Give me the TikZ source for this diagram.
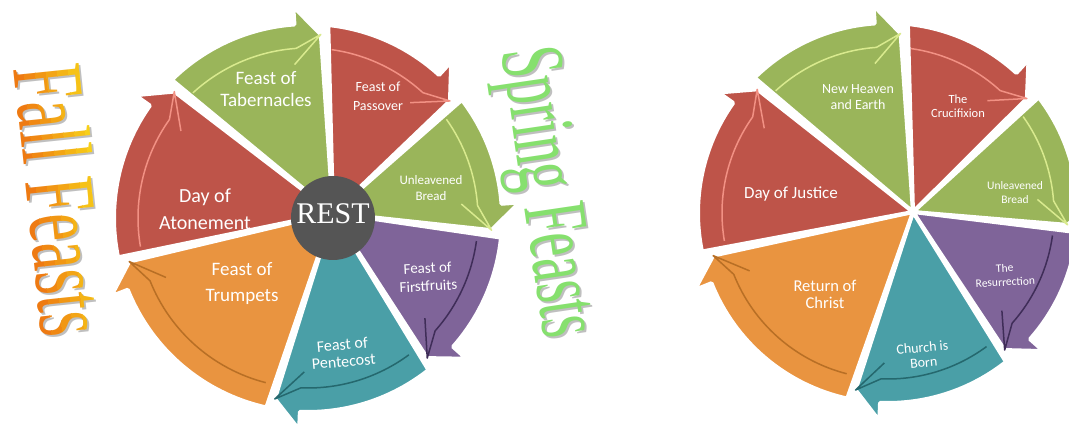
\documentclass[tikz,border=0pt]{standalone}
\usepackage{fontspec}
\setmainfont{Carlito}
\newfontfamily\titlefont{Liberation Serif}
\usetikzlibrary{calc}

\definecolor{feastred}{HTML}{BE5449}
\definecolor{feastgreen}{HTML}{9AB55A}
\definecolor{feastpurple}{HTML}{7F6499}
\definecolor{feastteal}{HTML}{4A9FA7}
\definecolor{feastorange}{HTML}{E99440}
\definecolor{redline}{HTML}{F29184}
\definecolor{greenline}{HTML}{D9EA8E}
\definecolor{purpleline}{HTML}{3F2D58}
\definecolor{tealline}{HTML}{25686E}
\definecolor{orangeline}{HTML}{B86F25}
\definecolor{restgray}{HTML}{555555}
\definecolor{fallorange}{HTML}{EE7A12}
\definecolor{fallyellow}{HTML}{F8D418}
\definecolor{springgreen}{HTML}{86E06E}

\tikzset{
  feastlabel/.style 2 args={text=white, align=center, inner sep=0pt, font=\fontsize{#1}{#2}\selectfont},
  feasttitle/.style={font=\titlefont\fontsize{100}{100}\selectfont, inner sep=0pt},
}

% one slice of the wheel: start angle, end angle, fill, rim line
\newcommand{\feastarc}[4]{%
  \pgfmathsetmacro\barbang{#2+10}%
  \pgfmathsetmacro\tipang{#2+2}%
  \filldraw[fill=#3, draw=white, line width=4pt, line join=round]
    (a) -- ($(c)+(#1:\rr)$) arc[start angle=#1, end angle=\barbang, radius=\rr]
    -- ($(c)+(\barbang:\rr+18)$) -- ($(c)+(\tipang:\rr-10)$) -- cycle;
  \draw[draw=#4, line width=1.5pt, line join=round]
    ($(c)+(#1-2:\rr-24)$) arc[start angle=#1-2, end angle=\barbang, radius=\rr-24]
    -- ($(c)+(\tipang:\rr-10)$) -- ($(c)+(\barbang+1:\rr-40)$);
}

\def\feastlist{134.6/84/feastgreen/greenline, 84/37.5/feastred/redline,
  37.5/-5.8/feastgreen/greenline, -5.8/-51.6/feastpurple/purpleline,
  -51.6/-102.4/feastteal/tealline, -102.4/-168.3/feastorange/orangeline,
  191.7/134.6/feastred/redline}

\begin{document}
\begin{tikzpicture}[x=1pt, y=1pt]
  \useasboundingbox (0,0) rectangle (1069,427);

  % left wheel
  \coordinate (c) at (308,209);
  \coordinate (a) at (333,214);
  \def\rr{194}
  \foreach \sa/\ea/\fc/\lc in \feastlist {
    \feastarc{\sa}{\ea}{\fc}{\lc}
  }
  \node[circle, fill=restgray, minimum size=84pt, inner sep=0pt] (rest) at (333,209) {};
  \node[text=white, font=\titlefont\fontsize{30}{30}\selectfont] (resttext) at (333,213) {REST};

  \node[feastlabel={19}{22}] (tabernacles) at (266,338) {Feast of\\Tabernacles};
  \node[feastlabel={14}{19}] (passover) at (378,331) {Feast of\\Passover};
  \node[feastlabel={13}{16}] (bread) at (431,239) {Unleavened\\Bread};
  \node[feastlabel={15}{18}, rotate=3] (firstfruits) at (428,150) {Feast of\\Firstfruits};
  \node[feastlabel={16}{17}, rotate=5] (pentecost) at (343,74) {Feast of\\Pentecost};
  \node[feastlabel={19}{26}] (trumpets) at (242,143) {Feast of\\Trumpets};
  \node[feastlabel={20}{27}] (atonement) at (205,218) {Day of\\Atonement};

  % right wheel
  \coordinate (c) at (888,214);
  \coordinate (a) at (913,215);
  \def\rr{190}
  \foreach \sa/\ea/\fc/\lc in \feastlist {
    \feastarc{\sa}{\ea}{\fc}{\lc}
  }

  \node[feastlabel={14}{16}] (newheaven) at (858,330) {New Heaven\\and Earth};
  \node[feastlabel={12.5}{14}] (crucifixion) at (958,321) {The\\Crucifixion};
  \node[feastlabel={11.5}{14}] (bread2) at (1015,234) {Unleavened\\Bread};
  \node[feastlabel={11.5}{14}, rotate=3] (resurrection) at (1005,152) {The\\Resurrection};
  \node[feastlabel={14}{15}, rotate=5] (church) at (923,72) {Church is\\Born};
  \node[feastlabel={16.5}{17}] (return) at (825,133) {Return of\\Christ};
  \node[feastlabel={17}{20}] (justice) at (791,233) {Day of Justice};

  % titles
  \node[feasttitle, text=black!25, rotate=-84, xscale=0.63] (fallshadow) at (64,225) {Fall Feasts};
  \begin{scope}[shift={(62,227)}, rotate=-84]
    \foreach \k in {0,...,6} {
      \pgfmathtruncatemacro\pc{\k*16}
      \begin{scope}
        \clip (-200,-36+\k*11) rectangle (200,-24.5+\k*11);
        \node[feasttitle, text=fallyellow!\pc!fallorange, xscale=0.63, transform shape] (fall\k) at (0,0) {Fall Feasts};
      \end{scope}
    }
  \end{scope}
  \node[feasttitle, font=\titlefont\fontsize{90}{90}\selectfont, text=black!25, rotate=-81.6, xscale=0.6] (springshadow) at (545,232) {Spring Feasts};
  \node[feasttitle, font=\titlefont\fontsize{90}{90}\selectfont, text=springgreen, rotate=-81.6, xscale=0.6] (spring) at (543,234) {Spring Feasts};
\end{tikzpicture}
\end{document}
